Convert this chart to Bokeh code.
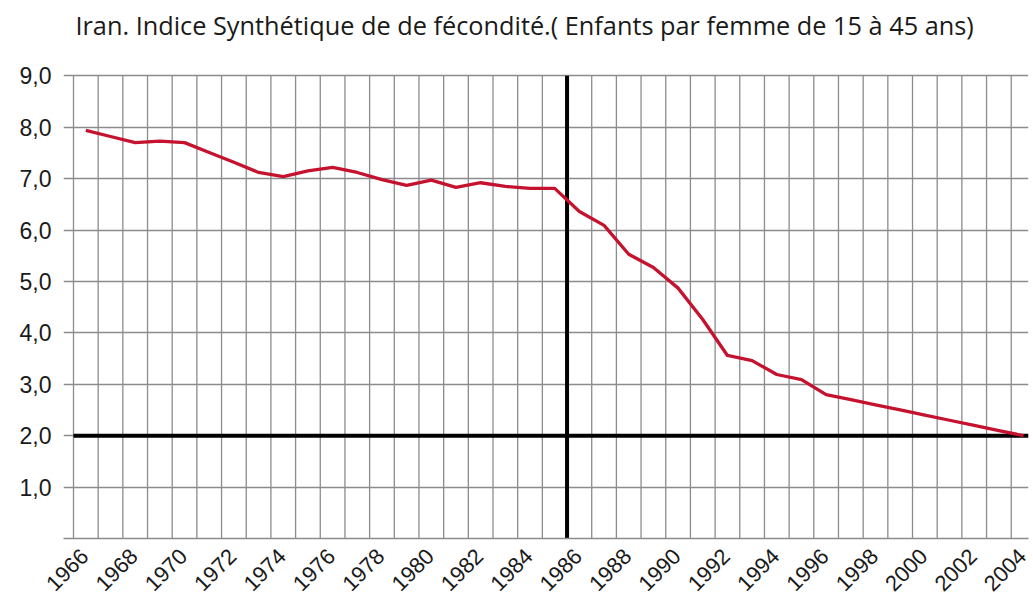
from bokeh.plotting import figure
from bokeh.models import FixedTicker, Range1d, Label
from bokeh.embed import file_html
from bokeh.resources import INLINE
import math

# ---- data ----
years = list(range(1966, 2005))
isf = [7.94, 7.82, 7.70, 7.73, 7.70, 7.51, 7.32, 7.12, 7.04, 7.15,
       7.22, 7.12, 6.98, 6.87, 6.97, 6.83, 6.92, 6.85, 6.81, 6.81,
       6.36, 6.09, 5.53, 5.27, 4.87, 4.26, 3.56, 3.46, 3.19, 3.09,
       2.80, 2.70, 2.60, 2.50, 2.40, 2.30, 2.20, 2.10, 2.00]
x_tick_years = list(range(1966, 2005, 2))
grid_years = list(range(1966, 2005))
y_ticks = [1, 2, 3, 4, 5, 6, 7, 8, 9]
y_tick_labels = ["1,0", "2,0", "3,0", "4,0", "5,0", "6,0", "7,0", "8,0", "9,0"]
threshold = 2.0
marker_year = 1986
title_text = "Iran.  Indice Synthétique de de fécondité.( Enfants par femme de 15 à 45 ans)"

# points sit midway between yearly gridlines
x_pos = [y + 0.5 for y in years]
# rotated year labels are anchored slightly right of their gridline
label_shift = 0.45
label_pos = [y + label_shift for y in x_tick_years]

X_START, X_END = 1965.595, 2004.70
Y_TOP = 9.0          # top of the chart grid
Y_END = 10.465       # frame extends up to hold the title

p = figure(width=1032, height=600, output_backend="svg", toolbar_location=None,
           x_range=Range1d(X_START, X_END), y_range=Range1d(0, Y_END),
           min_border_left=63, min_border_right=4, min_border_top=0,
           min_border_bottom=57)
p.outline_line_color = None
p.background_fill_color = "white"
p.border_fill_color = "white"

# title drawn as a label in the upper part of the frame
title = Label(x=1966.08, y=Y_TOP + 0.99, text=title_text,
              text_font="Open Sans", text_font_size="25.3px",
              text_color="#1a1a1a", text_align="left",
              text_baseline="alphabetic")
p.add_layout(title)

# grids: horizontal via grid, vertical drawn up to the top of the chart
p.xgrid.visible = False
p.ygrid.ticker = FixedTicker(ticks=y_ticks)
p.ygrid.grid_line_color = "#8c8c8c"
p.ygrid.grid_line_width = 1.3
p.segment(x0=grid_years, y0=[0] * len(grid_years), x1=grid_years,
          y1=[Y_TOP] * len(grid_years), line_color="#8c8c8c", line_width=1.3)

# axes
xa = p.xaxis[0]
xa.ticker = FixedTicker(ticks=label_pos)
xa.major_label_overrides = {pos: str(y) for pos, y in zip(label_pos, x_tick_years)}
xa.major_label_orientation = math.pi / 4
xa.major_tick_line_color = None
xa.minor_tick_line_color = None
xa.axis_line_color = "#8c8c8c"
xa.axis_line_width = 1.3
xa.major_label_text_font = "Liberation Sans"
xa.major_label_text_font_size = "22px"
xa.major_label_text_color = "#1a1a1a"
xa.major_label_standoff = 8

ya = p.yaxis[0]
ya.ticker = FixedTicker(ticks=y_ticks)
ya.major_label_overrides = {t: l for t, l in zip(y_ticks, y_tick_labels)}
ya.major_tick_line_color = None
ya.minor_tick_line_color = None
ya.axis_line_color = None
ya.major_label_text_font = "Liberation Sans"
ya.major_label_text_font_size = "23px"
ya.major_label_text_color = "#1a1a1a"
ya.major_label_standoff = 6

# reference lines
p.segment(x0=[grid_years[0]], y0=[threshold], x1=[X_END], y1=[threshold],
          line_color="black", line_width=4)
p.segment(x0=[marker_year], y0=[0], x1=[marker_year], y1=[Y_TOP],
          line_color="black", line_width=4)

# series
p.line(x_pos, isf, line_color="#c4122f", line_width=3.3, line_join="round")

open("out.html", "w").write(file_html(p, INLINE))
